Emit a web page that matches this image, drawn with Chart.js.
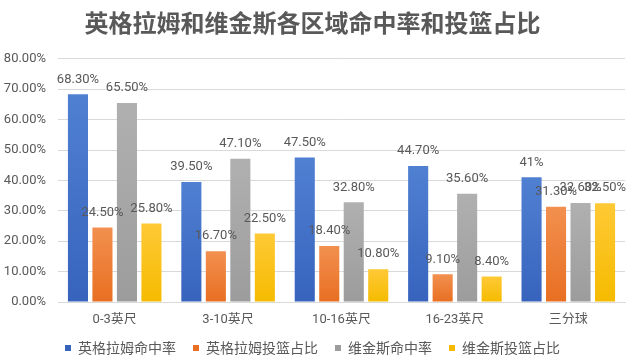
<!DOCTYPE html>
<html>
<head>
<meta charset="utf-8">
<script src="https://cdn.jsdelivr.net/npm/chart.js@4.4.0/dist/chart.umd.min.js"></script>
<style>
  html, body { margin: 0; padding: 0; background: #fff; }
  #wrap { width: 640px; height: 363px; position: relative; }
</style>
</head>
<body>
<div id="wrap"><canvas id="c"></canvas></div>
<script>
// 区域
const zones = ['0-3英尺', '3-10英尺', '10-16英尺', '16-23英尺', '三分球'];

// 各系列 (%)
const ingramFg = [68.3, 39.5, 47.5, 44.7, 41];
const ingramShare = [24.5, 16.7, 18.4, 9.1, 31.3];
const wigginsFg = [65.5, 47.1, 32.8, 35.6, 32.6];
const wigginsShare = [25.8, 22.5, 10.8, 8.4, 32.5];

const yTicks = [0, 10, 20, 30, 40, 50, 60, 70, 80];

const FONT = 'Roboto, "Noto Sans CJK SC", sans-serif';
const CJK = '"Noto Sans CJK SC", sans-serif';
const TEXT = '#595959';

// 上浅下深的柱子渐变
function barFill(top, bottom) {
  return (ctx) => {
    const chart = ctx.chart;
    const area = chart.chartArea;
    if (!area || ctx.raw == null) return bottom;
    const y = chart.scales.y.getPixelForValue(ctx.raw);
    const g = chart.ctx.createLinearGradient(0, y, 0, area.bottom);
    g.addColorStop(0, top);
    g.addColorStop(1, bottom);
    return g;
  };
}

const valueLabels = {
  id: 'valueLabels',
  afterDatasetsDraw(chart) {
    const ctx = chart.ctx;
    ctx.save();
    ctx.font = '13px ' + FONT;
    ctx.fillStyle = TEXT;
    ctx.textAlign = 'center';
    ctx.textBaseline = 'middle';
    chart.data.datasets.forEach((ds, i) => {
      chart.getDatasetMeta(i).data.forEach((bar, j) => {
        const v = ds.data[j];
        const txt = Number.isInteger(v) ? `${v}%` : `${v.toFixed(2)}%`;
        ctx.fillText(txt, bar.x, bar.y - 15);
      });
    });
    ctx.restore();
  },
};

new Chart(document.getElementById('c').getContext('2d'), {
  type: 'bar',
  data: {
    labels: zones,
    datasets: [
      { label: '英格拉姆命中率', data: ingramFg, backgroundColor: barFill('#5080d2', '#3763bd') },
      { label: '英格拉姆投篮占比', data: ingramShare, backgroundColor: barFill('#f2904f', '#e86f22') },
      { label: '维金斯命中率', data: wigginsFg, backgroundColor: barFill('#b0b0b0', '#9c9c9c') },
      { label: '维金斯投篮占比', data: wigginsShare, backgroundColor: barFill('#ffc936', '#f5bb00') },
    ].map((d) => ({ ...d, categoryPercentage: 0.864, barPercentage: 0.82 })),
  },
  options: {
    responsive: true,
    maintainAspectRatio: false,
    animation: false,
    layout: { padding: { left: 0, right: 15, top: 0, bottom: -2 } },
    plugins: {
      title: {
        display: true,
        text: '英格拉姆和维金斯各区域命中率和投篮占比',
        color: TEXT,
        font: { family: CJK, size: 24, weight: 'bold' },
        padding: { top: 8, bottom: 22 },
      },
      legend: {
        position: 'bottom',
        labels: {
          color: TEXT,
          font: { family: CJK, size: 14 },
          boxWidth: 6,
          boxHeight: 6,
          padding: 17,
        },
      },
      tooltip: { enabled: false },
    },
    scales: {
      x: {
        afterFit: (axis) => { axis.height = 22; },
        ticks: { color: TEXT, font: { family: FONT, size: 13 }, padding: 10 },
        grid: { display: false, drawTicks: false },
        border: { color: '#d9d9d9' },
      },
      y: {
        min: 0,
        max: 80,
        afterFit: (axis) => { axis.width = 58; },
        afterBuildTicks: (axis) => { axis.ticks = yTicks.map((v) => ({ value: v })); },
        ticks: {
          color: TEXT,
          font: { family: FONT, size: 13 },
          padding: 12,
          callback: (v) => `${v.toFixed(2)}%`,
        },
        grid: { color: '#d9d9d9', drawTicks: false },
        border: { display: false },
      },
    },
  },
  plugins: [valueLabels],
});
</script>
</body>
</html>
